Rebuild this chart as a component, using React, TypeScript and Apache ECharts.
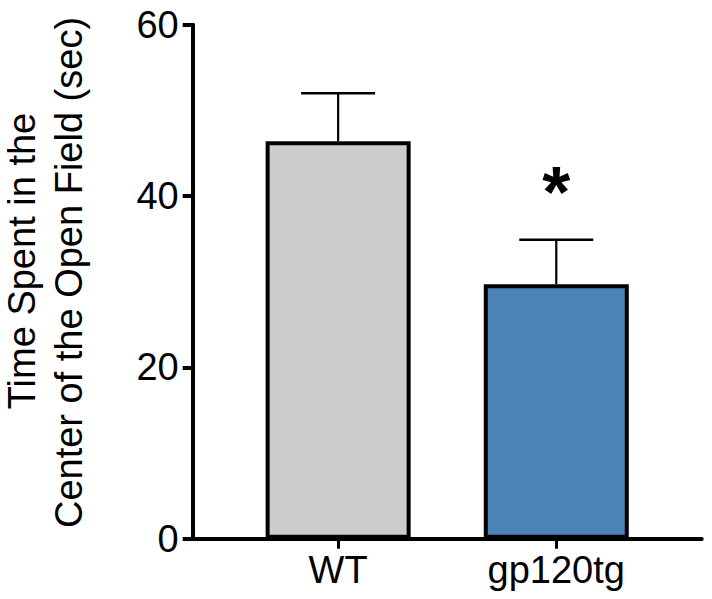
import React, { useEffect, useRef } from "react";
import * as echarts from "echarts";

const categories = ["WT", "gp120tg"];
const means = [46.4, 29.7];
const sems = [5.6, 5.2];
const significance = ["", "*"];
const barColors = ["#cccccc", "#4a84b6"];
const yTicks = [0, 20, 40, 60];
const titleLines = ["Time Spent in the", "Center of the Open Field (sec)"];

// category slots: each group sits on a slot of a finer axis (3 slots per group spacing)
const slotOf = [2, 5];
const slotCount = 8;

const FONT = "'Liberation Sans', Arial, Helvetica, sans-serif";
const FS = 38;

export default function App() {
  const ref = useRef<HTMLDivElement>(null);
  useEffect(() => {
    if (!ref.current) return;
    const chart = echarts.init(ref.current, null, { renderer: "svg" });
    const axisData: string[] = [];
    for (let i = 0; i < slotCount; i++) {
      const k = slotOf.indexOf(i);
      axisData.push(k >= 0 ? categories[k] : "pad" + i);
    }
    const isReal = (i: number) => slotOf.indexOf(i) >= 0;
    const barData = axisData.map((_, i) => {
      const k = slotOf.indexOf(i);
      if (k < 0) return null;
      return { value: means[k], itemStyle: { color: barColors[k] } };
    });
    const errData = categories.map((_, k) => [slotOf[k], means[k], means[k] + sems[k], k]);

    const titlePos = [
      { x: 21.5, y: 261 },
      { x: 68.5, y: 272.5 },
    ];

    chart.setOption({
      animation: false,
      grid: {
        left: 192.7,
        right: 10.3,
        top: 24.7,
        bottom: 60.3,
        containLabel: false,
        outerBoundsMode: "none",
      },
      graphic: titleLines.map((t, i) => ({
        type: "text",
        x: titlePos[i].x,
        y: titlePos[i].y,
        rotation: Math.PI / 2,
        style: {
          text: t,
          align: "center",
          verticalAlign: "middle",
          fontSize: FS,
          fontFamily: FONT,
          fill: "#000",
        },
      })),
      xAxis: {
        type: "category",
        data: axisData,
        boundaryGap: false,
        axisLine: { lineStyle: { color: "#000", width: 4 } },
        axisTick: {
          show: true,
          length: 10,
          interval: (i: number) => isReal(i),
          lineStyle: { color: "#000", width: 3 },
        },
        axisLabel: {
          interval: (i: number) => isReal(i),
          color: "#000",
          fontSize: FS,
          fontFamily: FONT,
          margin: 12,
        },
        splitLine: { show: false },
      },
      yAxis: {
        type: "value",
        min: yTicks[0],
        max: yTicks[yTicks.length - 1],
        interval: yTicks[1] - yTicks[0],
        axisLine: { show: true, lineStyle: { color: "#000", width: 4 } },
        axisTick: { show: true, length: 10, lineStyle: { color: "#000", width: 4 } },
        axisLabel: { color: "#000", fontSize: FS, fontFamily: FONT, margin: 14 },
        splitLine: { show: false },
      },
      series: [
        {
          type: "bar",
          data: barData,
          barWidth: 145,
          itemStyle: { borderColor: "#000", borderWidth: 4 },
          z: 2,
        },
        {
          type: "custom",
          data: errData,
          z: 3,
          renderItem: (params: any, api: any) => {
            const x = api.value(0);
            const top = api.coord([x, api.value(1)]);
            const hi = api.coord([x, api.value(2)]);
            const k = api.value(3);
            const half = 37;
            const children: any[] = [
              {
                type: "line",
                shape: { x1: top[0], y1: top[1], x2: hi[0], y2: hi[1] },
                style: { stroke: "#000", lineWidth: 2.2 },
              },
              {
                type: "line",
                shape: { x1: hi[0] - half, y1: hi[1], x2: hi[0] + half, y2: hi[1] },
                style: { stroke: "#000", lineWidth: 2.5 },
              },
            ];
            if (significance[k]) {
              children.push({
                type: "text",
                style: {
                  text: significance[k],
                  x: hi[0],
                  y: hi[1] - 12,
                  align: "center",
                  verticalAlign: "bottom",
                  fontSize: 72,
                  fontWeight: "bold",
                  fontFamily: FONT,
                  fill: "#000",
                },
              });
            }
            return { type: "group", children };
          },
        },
      ],
    });
    return () => chart.dispose();
  }, []);
  return (
    <div
      ref={ref}
      style={{ position: "absolute", left: 0, top: 0, width: 712, height: 599 }}
    />
  );
}
